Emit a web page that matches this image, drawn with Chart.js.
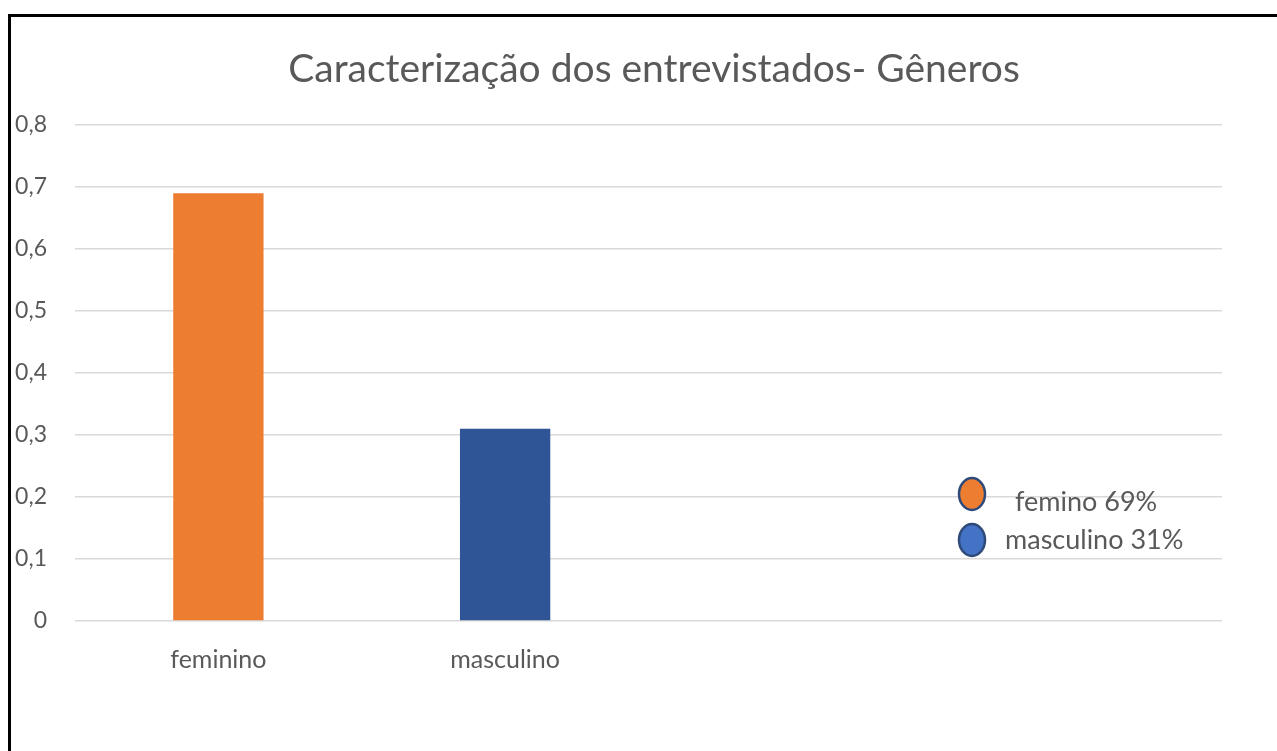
<!DOCTYPE html>
<html>
<head>
<meta charset="utf-8">
<script src="https://cdn.jsdelivr.net/npm/chart.js@4.4.1/dist/chart.umd.min.js"></script>
<style>
  html, body { margin: 0; padding: 0; background: #ffffff; }
  #wrap { position: relative; width: 1277px; height: 751px; overflow: hidden; }
  #frame { position: absolute; left: 8px; top: 14px; width: 1300px; height: 800px;
           border-left: 3px solid #000; border-top: 3px solid #000; pointer-events: none; }
  canvas { position: absolute; left: 0; top: 0; }
</style>
</head>
<body>
<div id="wrap">
  <canvas id="c" width="1277" height="751"></canvas>
  <div id="frame"></div>
</div>
<script>
const chartTitle = 'Caracterização dos entrevistados- Gêneros';
const categories = ['feminino', 'masculino', '', ''];
const values = [0.69, 0.31, null, null];
const barColors = ['#ED7D31', '#2F5597', '#2F5597', '#2F5597'];
const legendLabels = ['femino 69%', 'masculino 31%'];
const legendColors = ['#ED7D31', '#4472C4'];
const yTicksMax = 0.8;
const yStep = 0.1;

const FONT = 'Lato, "Open Sans", sans-serif';
const GRAY = '#595959';

const overlay = {
  id: 'overlay',
  afterDraw(chart) {
    const ctx = chart.ctx;
    ctx.save();
    // title
    ctx.fillStyle = GRAY;
    ctx.font = '39px ' + FONT;
    ctx.textAlign = 'center';
    ctx.textBaseline = 'middle';
    ctx.fillText(chartTitle, 654, 69);
    // legend
    const rows = [
      {mx: 972, my: 494, tx: 1015, ty: 502},
      {mx: 972, my: 540, tx: 1005, ty: 540}
    ];
    rows.forEach((r, i) => {
      ctx.beginPath();
      ctx.ellipse(r.mx, r.my, 13, 16, 0, 0, Math.PI * 2);
      ctx.fillStyle = legendColors[i];
      ctx.fill();
      ctx.lineWidth = 2.5;
      ctx.strokeStyle = '#2F4A7A';
      ctx.stroke();
      ctx.fillStyle = GRAY;
      ctx.font = '27px ' + FONT;
      ctx.textAlign = 'left';
      ctx.textBaseline = 'middle';
      ctx.fillText(legendLabels[i], r.tx, r.ty);
    });
    ctx.restore();
  }
};

new Chart(document.getElementById('c'), {
  type: 'bar',
  data: {
    labels: categories,
    datasets: [{
      data: values,
      backgroundColor: barColors,
      borderWidth: 0,
      barPercentage: 0.9,
      categoryPercentage: 0.35
    }]
  },
  options: {
    responsive: false,
    animation: false,
    layout: { padding: { top: 125, right: 55, bottom: 60, left: 0 } },
    plugins: { legend: { display: false }, title: { display: false }, tooltip: { enabled: false } },
    scales: {
      x: {
        grid: { display: false },
        border: { display: false },
        ticks: { color: GRAY, font: { family: FONT, size: 25 }, padding: 16, maxRotation: 0 }
      },
      y: {
        min: 0, max: yTicksMax,
        afterFit(scale) { scale.width = 75; },
        grid: { color: '#D9D9D9', lineWidth: 1.5, drawTicks: false },
        border: { display: false },
        ticks: {
          stepSize: yStep,
          color: GRAY,
          padding: 28,
          font: { family: FONT, size: 23 },
          callback: v => (v === 0 ? '0' : v.toFixed(1).replace('.', ','))
        }
      }
    }
  },
  plugins: [overlay]
});
</script>
</body>
</html>
